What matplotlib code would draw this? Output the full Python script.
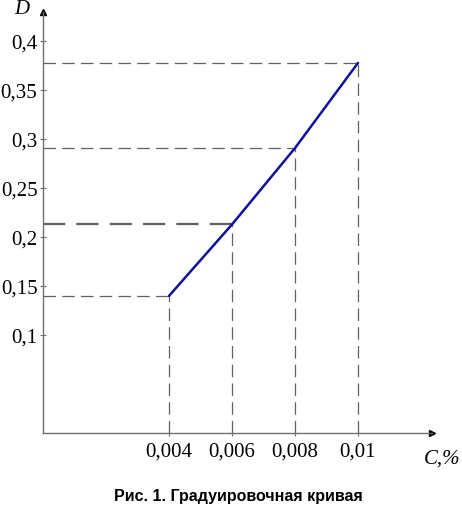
import matplotlib
matplotlib.use('Agg')
import matplotlib.pyplot as plt

# данные градуировочной кривой
conc = [0.004, 0.006, 0.008, 0.01]       # C, %
dens = [0.140, 0.213, 0.291, 0.378]      # D
xticks = [0.004, 0.006, 0.008, 0.01]
xlabels = ['0,004', '0,006', '0,008', '0,01']
yticks = [0.1, 0.15, 0.2, 0.25, 0.3, 0.35, 0.4]
ylabels = ['0,1', '0,15', '0,2', '0,25', '0,3', '0,35', '0,4']

fig = plt.figure(figsize=(4.62, 5.09), dpi=100)
ax = fig.add_axes([43 / 462, 76 / 509, 389 / 462, 421 / 509])
ax.set_xlim(0, 0.01235)
ax.set_ylim(0, 0.43)

serif = 'Liberation Serif'
axis_col = '#707070'
dash_col = '#606060'

# пунктирные линии к точкам
for i, (c, d) in enumerate(zip(conc, dens)):
    lw = 1.6 if i == 1 else 0.9
    ax.plot([0, c], [d, d], color=dash_col, lw=lw, dashes=(10, 5))
    ax.plot([c, c], [0, d], color=dash_col, lw=0.9, dashes=(10, 5))

# кривая
ax.plot(conc, dens, color='#10109a', lw=1.8, solid_capstyle='round')

for s in ['top', 'right']:
    ax.spines[s].set_visible(False)
for s in ['left', 'bottom']:
    ax.spines[s].set_color(axis_col)
    ax.spines[s].set_linewidth(1.0)

# стрелки осей
ax.plot(1, 0, '>', color='black', ms=5, transform=ax.transAxes, clip_on=False)
ax.plot(0, 1, '^', color='black', ms=5, transform=ax.transAxes, clip_on=False)

ax.set_xticks(xticks)
ax.set_xticklabels(xlabels, family=serif, fontsize=15)
ax.set_yticks(yticks)
ax.set_yticklabels(ylabels, family=serif, fontsize=15)
ax.tick_params(axis='x', direction='inout', length=4, width=0.8, color=axis_col, pad=5)
ax.tick_params(axis='y', direction='inout', length=4, width=0.8, color=axis_col, pad=2)

ax.text(-0.055, 1.005, 'D', transform=ax.transAxes, family=serif, style='italic',
        fontsize=15, ha='center', va='center')
ax.text(1.025, -0.062, 'C,%', transform=ax.transAxes, family=serif, style='italic',
        fontsize=15, ha='center', va='center')

fig.text(238 / 462, 1 - 497 / 509, 'Рис. 1. Градуировочная кривая', family='Liberation Sans',
         weight='bold', fontsize=11.5, ha='center', va='center')

fig.savefig('out.png', dpi=100)
